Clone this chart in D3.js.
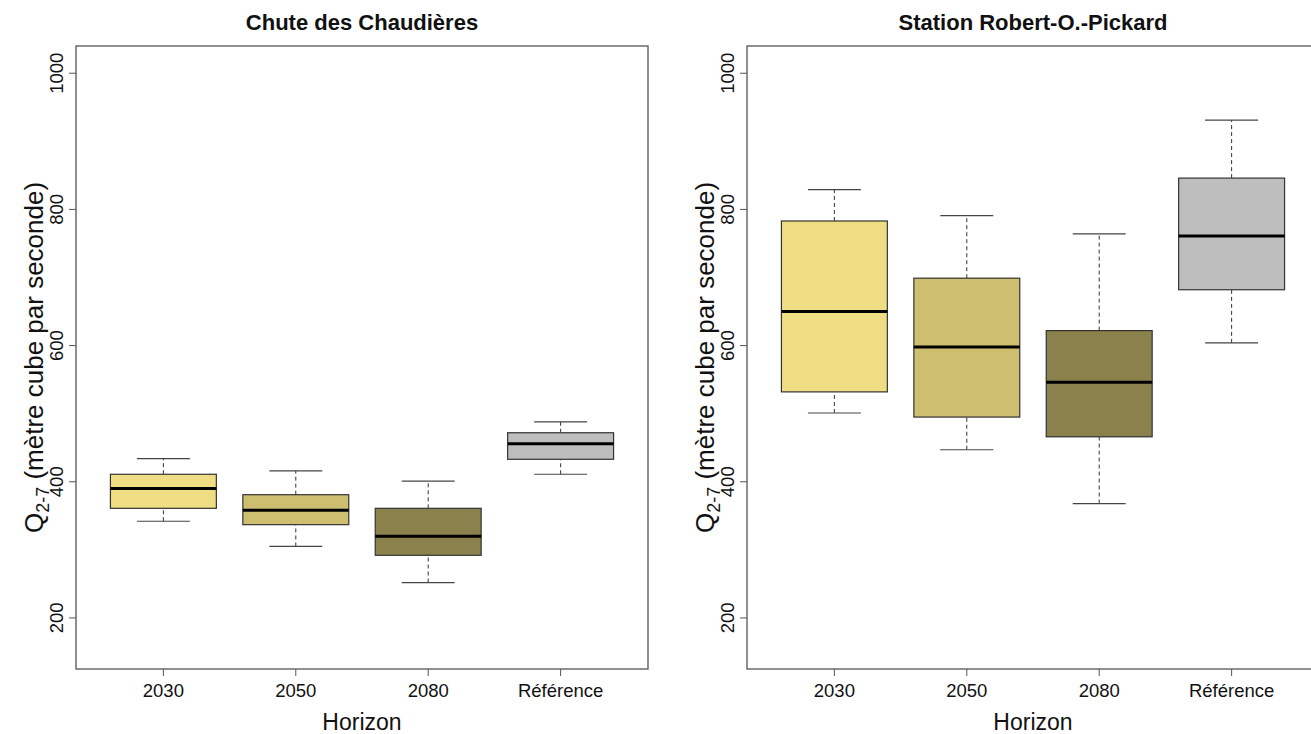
<!DOCTYPE html>
<html>
<head>
<meta charset="utf-8">
<script src="https://cdn.jsdelivr.net/npm/d3@7"></script>
<style>
  body { margin: 0; background: #fff; }
  text { font-family: "Liberation Sans", Arial, sans-serif; fill: #111; }
</style>
</head>
<body>
<svg id="chart" width="1311" height="734"></svg>
<script>
"use strict";

// categories and fills
var horizons = ["2030", "2050", "2080", "Référence"];
var fills    = ["#EEDD82", "#CDBE70", "#8B814C", "#BEBEBE"];
var yTicks   = [200, 400, 600, 800, 1000];

// box stats: [lower whisker, Q1, median, Q3, upper whisker]
var chaudieres = [
  [342, 361, 390, 411, 434],
  [305, 337, 358, 381, 416],
  [252, 292, 320, 361, 401],
  [411, 433, 456, 472, 488]
];
var pickard = [
  [501, 532, 650, 783, 829],
  [447, 495, 598, 699, 791],
  [368, 466, 546, 622, 764],
  [604, 682, 761, 846, 931]
];

var titles = ["Chute des Chaudières", "Station Robert-O.-Pickard"];
var panels = [chaudieres, pickard];

(function() {
var svg = d3.select("#chart");
var W = 572, plotTop = 46, plotBottom = 669;
var lefts = [76, 747];

var y = d3.scaleLinear().domain([125, 1040]).range([plotBottom, plotTop]);

panels.forEach(function(data, p) {
  var x0 = lefts[p];
  // R style: positions 1..4, xlim 0.5..4.5 extended 4%
  var x = d3.scaleLinear().domain([0.34, 4.66]).range([x0, x0 + W]);
  var step = x(2) - x(1);
  var bw = step * 0.8;
  var g = svg.append("g");

  // x axis ticks + labels
  horizons.forEach(function(h, i) {
    g.append("line")
      .attr("x1", x(i + 1)).attr("x2", x(i + 1))
      .attr("y1", plotBottom).attr("y2", plotBottom + 7)
      .attr("stroke", "#555").attr("stroke-width", 1);
    g.append("text")
      .attr("x", x(i + 1)).attr("y", 697)
      .attr("text-anchor", "middle")
      .style("font-size", "18.5px")
      .text(h);
  });

  // y ticks, rotated labels
  yTicks.forEach(function(t) {
    g.append("line")
      .attr("x1", x0 - 7).attr("x2", x0)
      .attr("y1", y(t)).attr("y2", y(t))
      .attr("stroke", "#555");
    g.append("text")
      .attr("transform", "translate(" + (x0 - 13) + "," + y(t) + ") rotate(-90)")
      .attr("text-anchor", "middle")
      .style("font-size", "18.5px")
      .text(t);
  });

  // boxes
  data.forEach(function(d, i) {
    var cx = x(i + 1);
    // dashed whiskers
    [[d[0], d[1]], [d[3], d[4]]].forEach(function(seg) {
      g.append("line")
        .attr("x1", cx).attr("x2", cx)
        .attr("y1", y(seg[0])).attr("y2", y(seg[1]))
        .attr("stroke", "#333").attr("stroke-dasharray", "4,3");
    });
    // caps
    [d[0], d[4]].forEach(function(v) {
      g.append("line")
        .attr("x1", cx - bw / 4).attr("x2", cx + bw / 4)
        .attr("y1", y(v)).attr("y2", y(v))
        .attr("stroke", "#444").attr("stroke-width", 1.2);
    });
    g.append("rect")
      .attr("x", cx - bw / 2).attr("width", bw)
      .attr("y", y(d[3])).attr("height", y(d[1]) - y(d[3]))
      .attr("fill", fills[i]).attr("stroke", "#333").attr("stroke-width", 1.2);
    g.append("line")
      .attr("x1", cx - bw / 2).attr("x2", cx + bw / 2)
      .attr("y1", y(d[2])).attr("y2", y(d[2]))
      .attr("stroke", "#000").attr("stroke-width", 3);
  });

  // frame
  g.append("rect")
    .attr("x", x0).attr("y", plotTop)
    .attr("width", W).attr("height", plotBottom - plotTop)
    .attr("fill", "none").attr("stroke", "#555").attr("stroke-width", 1.3);

  // title
  g.append("text")
    .attr("x", x0 + W / 2).attr("y", 30)
    .attr("text-anchor", "middle")
    .style("font-size", "22px").style("font-weight", "bold")
    .text(titles[p]);

  // x axis title
  g.append("text")
    .attr("x", x0 + W / 2).attr("y", 730)
    .attr("text-anchor", "middle")
    .style("font-size", "23px")
    .text("Horizon");

  // y axis title with subscript
  var yt = g.append("text")
    .attr("transform", "translate(" + (x0 - 33) + "," + ((plotTop + plotBottom) / 2) + ") rotate(-90)")
    .attr("text-anchor", "middle")
    .style("font-size", "26px");
  yt.append("tspan").text("Q");
  yt.append("tspan").attr("dy", 6).style("font-size", "18px").text("2-7");
  yt.append("tspan").attr("dy", -6).text(" (mètre cube par seconde)");
});
})();
</script>
</body>
</html>
